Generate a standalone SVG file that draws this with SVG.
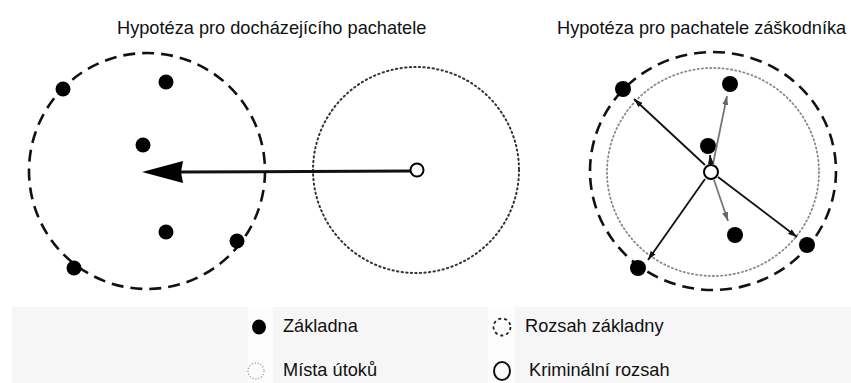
<svg xmlns="http://www.w3.org/2000/svg" width="851" height="383" viewBox="0 0 851 383">
<style>
text{font-family:"Liberation Sans",Arial,sans-serif;font-size:18.2px;fill:#111}
.dot{fill:#000}
.dash{fill:none;stroke:#111;stroke-width:2.6;stroke-dasharray:12 7}
.dotc{fill:none;stroke:#333;stroke-width:2;stroke-dasharray:1.3 3.3;stroke-linecap:round}
.dotl{fill:none;stroke:#888;stroke-width:1.8;stroke-dasharray:1.2 3;stroke-linecap:round}
.open{fill:#fff;stroke:#000;stroke-width:2}
.arr{stroke:#111;stroke-width:1.8;fill:none;marker-end:url(#ah)}
.arrg{stroke:#777;stroke-width:1.8;fill:none;marker-end:url(#ahg)}
</style>
<defs>
<marker id="ah" markerUnits="userSpaceOnUse" markerWidth="10" markerHeight="8" refX="9" refY="3" orient="auto"><path d="M0,0 L9,3 L0,6 z" fill="#111"/></marker>
<marker id="ahg" markerUnits="userSpaceOnUse" markerWidth="10" markerHeight="8" refX="9" refY="3" orient="auto"><path d="M0,0 L9,3 L0,6 z" fill="#666"/></marker>
</defs>
<rect width="851" height="383" fill="#fff"/>
<g id="legend-bg">
<rect x="12" y="307" width="839" height="76" fill="#f6f6f6"/>
<rect x="248" y="307" width="25" height="76" fill="#fdfdfd"/>
<rect x="488" y="307" width="27" height="76" fill="#fdfdfd"/>
</g>
<g id="title-left"><text x="117" y="34">Hypotéza pro docházejícího pachatele</text></g>
<g id="title-right"><text x="557" y="34">Hypotéza pro pachatele záškodníka</text></g>
<g id="left-base-range"><circle cx="147" cy="171" r="118" class="dash"/></g>
<g id="left-attack-area"><circle cx="416" cy="170" r="103" class="dotc"/></g>
<g id="left-bases">
<circle cx="63" cy="89" r="7.5" class="dot"/>
<circle cx="166" cy="82" r="7.5" class="dot"/>
<circle cx="143" cy="145" r="7.5" class="dot"/>
<circle cx="166" cy="232" r="7.5" class="dot"/>
<circle cx="237" cy="241" r="7.5" class="dot"/>
<circle cx="74" cy="268" r="7.5" class="dot"/>
</g>
<g id="right-base-range"><ellipse cx="713" cy="171" rx="123" ry="119" class="dash"/></g>
<g id="right-attack-area"><ellipse cx="713" cy="172" rx="106" ry="104" class="dotl"/></g>
<g id="right-bases">
<circle cx="623" cy="89" r="8" class="dot"/>
<circle cx="730" cy="84" r="8" class="dot"/>
<circle cx="708" cy="146" r="8" class="dot"/>
<circle cx="735" cy="235" r="8" class="dot"/>
<circle cx="807" cy="245" r="8" class="dot"/>
<circle cx="638" cy="268" r="8" class="dot"/>
</g>
<g id="connectors">
<line x1="411" y1="171" x2="180" y2="172" stroke="#111" stroke-width="3"/>
<path d="M142,172 L183,161 L181,172 L183,183 z" fill="#000"/>
<line x1="705" y1="165" x2="634" y2="99" class="arr"/>
<line x1="713" y1="164" x2="727" y2="96" class="arrg"/>
<line x1="711" y1="165" x2="710" y2="155" class="arr"/>
<line x1="714" y1="180" x2="728" y2="221" class="arrg"/>
<line x1="718" y1="177" x2="797" y2="237" class="arr"/>
<line x1="705" y1="179" x2="648" y2="260" class="arr"/>
</g>
<g id="left-offender"><circle cx="417" cy="170" r="6.5" class="open"/></g>
<g id="right-offender"><circle cx="711" cy="172" r="7" class="open"/></g>
<g id="legend">
<g id="leg-base"><ellipse cx="259" cy="327" rx="7" ry="7.5" class="dot"/><text x="283" y="332">Základna</text></g>
<g id="leg-base-range"><circle cx="502" cy="327" r="8.5" fill="none" stroke="#222" stroke-width="1.8" stroke-dasharray="3 3"/><text x="525" y="332">Rozsah základny</text></g>
<g id="leg-attack"><circle cx="256" cy="371" r="8" fill="none" stroke="#999" stroke-width="1.3" stroke-dasharray="1.2 1.8"/><text x="283" y="376">Místa útoků</text></g>
<g id="leg-offender"><ellipse cx="502" cy="371" rx="8" ry="9" fill="none" stroke="#111" stroke-width="2"/><text x="529" y="376">Kriminální rozsah</text></g>
</g>
</svg>
